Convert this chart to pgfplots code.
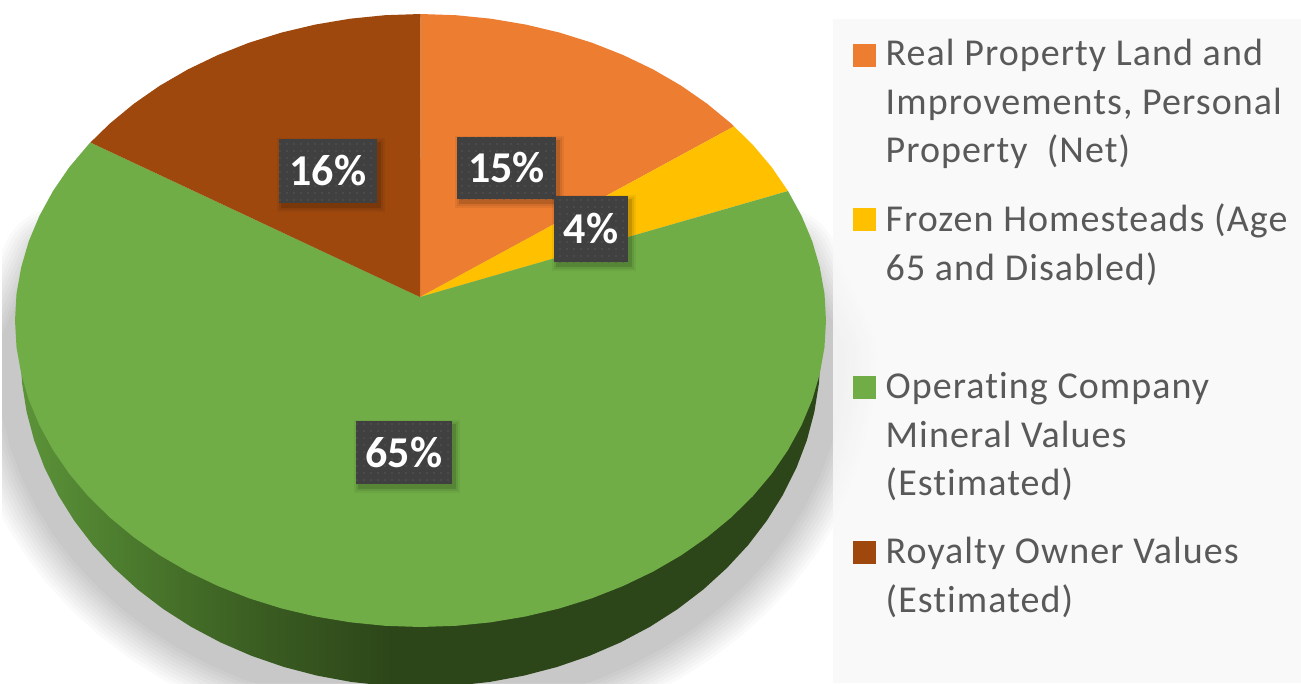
\documentclass[border=0pt]{standalone}
\usepackage{fontspec}
\setmainfont{Carlito}
\newfontfamily\legfont[LetterSpace=2.8,Ligatures=NoCommon]{Carlito}
\usepackage{pgfplots}
\usepackage{pgfplotstable}
\pgfplotsset{compat=1.18}
\usetikzlibrary{patterns.meta}
\definecolor{corange}{HTML}{ED7D31}
\definecolor{cyellow}{HTML}{FFC000}
\definecolor{cgreen}{HTML}{70AD47}
\definecolor{cbrown}{HTML}{9E480E}
\definecolor{ctext}{HTML}{595959}
\definecolor{cbox}{HTML}{404040}
\definecolor{cdot}{HTML}{555555}
\definecolor{gA}{HTML}{5C9339}
\definecolor{gB}{HTML}{4B7A2D}
\definecolor{gC}{HTML}{3B5E22}
\definecolor{gD}{HTML}{2C4519}
\pgfdeclarehorizontalshading{sidegreen}{100bp}{color(0bp)=(gA); color(25bp)=(gA); color(32bp)=(gB); color(39.5bp)=(gC); color(48.5bp)=(gD); color(100bp)=(gD)}
\pgfplotstableread{
x y
820.5 354
819 383
814.4 411.8
806.9 440.2
796.4 467.9
783 494.7
766.9 520.5
748.2 545
726.9 568
703.3 589.5
677.6 609.1
649.9 626.8
620.5 642.4
589.5 655.8
557.3 666.9
524 675.6
489.9 681.9
455.4 685.7
420.5 687
385.6 685.7
351.1 681.9
317 675.6
283.7 666.9
251.5 655.8
220.5 642.4
191.1 626.8
163.4 609.1
137.7 589.5
114.1 568
92.8 545
74.1 520.5
58 494.7
44.6 467.9
34.1 440.2
26.6 411.8
22 383
20.5 354
}\sidetable
\pgfplotstableread{
x y
820.5 354
819 383
814.4 411.8
806.9 440.2
796.4 467.9
783 494.7
766.9 520.5
748.2 545
726.9 568
703.3 589.5
677.6 609.1
649.9 626.8
620.5 642.4
589.5 655.8
557.3 666.9
524 675.6
489.9 681.9
455.4 685.7
420.5 687
385.6 685.7
351.1 681.9
317 675.6
283.7 666.9
251.5 655.8
220.5 642.4
191.1 626.8
163.4 609.1
137.7 589.5
114.1 568
92.8 545
74.1 520.5
58 494.7
44.6 467.9
34.1 440.2
26.6 411.8
22 383
20.5 354
60 268
780 268
}\shadowtable
\newcommand{\lab}[5]{%
  \node[fill=black,opacity=.05,minimum width=#3pt+10pt,minimum height=#4pt+10pt,inner sep=0] at (axis cs:#1+3,#2+4) {};
  \node[fill=black,opacity=.07,minimum width=#3pt+6pt,minimum height=#4pt+6pt,inner sep=0] at (axis cs:#1+3,#2+4) {};
  \node[fill=black,opacity=.12,minimum width=#3pt+2pt,minimum height=#4pt+2pt,inner sep=0] at (axis cs:#1+3,#2+4) {};
  \node[fill=cbox,minimum width=#3pt,minimum height=#4pt,inner sep=0] at (axis cs:#1,#2) {};
  \node[pattern={Dots[distance=7pt,radius=.9pt]},pattern color=cdot,minimum width=#3pt,minimum height=#4pt,inner sep=0] at (axis cs:#1,#2) {};
  \node[text=white,inner sep=0] at (axis cs:#1,#2) {\fontsize{44}{44}\selectfont\bfseries #5};
}
\newcommand{\leg}[2]{\node[anchor=base west,inner sep=0,text=ctext] at (axis cs:885.5,#1) {\legfont\fontsize{38}{38}\selectfont #2};}
\begin{document}
\begin{tikzpicture}
\begin{axis}[
  width=1301pt,height=683pt,scale only axis,
  xmin=0,xmax=1301,ymin=0,ymax=683,y dir=reverse,
  hide axis,clip=true]
% page background
\addplot[draw=none,fill=white] coordinates {(0,0) (1301,0) (1301,683) (0,683)} -- cycle;
% soft shadow
\pgfplotsinvokeforeach{50,57,...,120}{
\addplot[draw=black,line width=#1pt,line join=round,opacity=.02] table[x=x,y=y] {\shadowtable} -- cycle;
}
% white strip at the left of the chart area
\addplot[draw=none,fill=white] coordinates {(0,0) (1.5,0) (1.5,683) (0,683)} -- cycle;
% legend panel
\addplot[draw=none,fill=black!2.5,opacity=.85] coordinates {(833,19) (1301,19) (1301,683) (833,683)} -- cycle;
% side of the pie
\addplot[draw=none,shade,shading=sidegreen] table[x=x,y=y] {\sidetable} -- cycle;
% orange 15%
\addplot[draw=none,fill=corange] coordinates {
(420,297) (420.5,14) (455.9,15.2) (490.9,18.7) (525.4,24.5) (559.2,32.5) (591.9,42.7)
(623.3,55.1) (653.1,69.4) (681.2,85.7) (707.2,103.8) (731.1,123.5) (734,126.4)} -- cycle;
% yellow 4%
\addplot[draw=none,fill=cyellow] coordinates {
(420,297) (734,126.4) (752.7,144.7) (771.7,167.2) (788,191)} -- cycle;
% green 65%
\addplot[draw=none,fill=cgreen] coordinates {
(420,297) (788,191) (801.5,215.7) (812.2,241.2) (819.8,267.3) (824.5,293.8) (826,320.5)
(824.5,347.2) (819.8,373.7) (812.2,399.8) (801.5,425.3) (788,450) (771.7,473.8) (752.7,496.3)
(731.1,517.5) (707.2,537.2) (681.2,555.3) (653.1,571.6) (623.3,585.9) (591.9,598.3) (559.2,608.5)
(525.4,616.5) (490.9,622.3) (455.9,625.8) (420.5,627) (385.1,625.8) (350.1,622.3) (315.6,616.5)
(281.8,608.5) (249.1,598.3) (217.7,585.9) (187.9,571.6) (159.8,555.3) (133.8,537.2) (109.9,517.5)
(88.3,496.3) (69.3,473.8) (53,450) (39.5,425.3) (28.8,399.8) (21.2,373.7) (16.5,347.2) (15,320.5)
(16.5,293.8) (21.2,267.3) (28.8,241.2) (39.5,215.7) (53,191) (69.3,167.2) (88.3,144.7) (90.4,142.5)} -- cycle;
% brown 16%
\addplot[draw=none,fill=cbrown] coordinates {
(420,297) (90.4,142.5) (109.9,123.5) (133.8,103.8) (159.8,85.7) (187.9,69.4) (217.7,55.1)
(249.1,42.7) (281.8,32.5) (315.6,24.5) (350.1,18.7) (385.1,15.2) (420.5,14)} -- cycle;
% legend keys
\addplot[only marks,mark=square*,mark size=11pt,mark options={draw=corange,line width=0pt,fill=corange}] coordinates {(864,55)};
\addplot[only marks,mark=square*,mark size=11pt,mark options={draw=cyellow,line width=0pt,fill=cyellow}] coordinates {(864,219)};
\addplot[only marks,mark=square*,mark size=11pt,mark options={draw=cgreen,line width=0pt,fill=cgreen}] coordinates {(864,387)};
\addplot[only marks,mark=square*,mark size=11pt,mark options={draw=cbrown,line width=0pt,fill=cbrown}] coordinates {(864,552)};
% data labels
\lab{506.5}{168}{99}{62}{15\%}{}
\lab{591}{229}{74}{66}{4\%}{}
\lab{328}{171}{98}{64}{16\%}{}
\lab{404}{452.5}{96}{63}{65\%}{}
% legend text
\leg{65.5}{Real Property Land and}
\leg{114}{Improvements, Personal}
\leg{162.5}{Property\ \ (Net)}
\leg{231}{Frozen Homesteads (Age}
\leg{280}{65 and Disabled)}
\leg{398}{Operating Company}
\leg{447}{Mineral Values}
\leg{495.5}{(Estimated)}
\leg{563.5}{Royalty Owner Values}
\leg{612}{(Estimated)}
\end{axis}
\end{tikzpicture}
\end{document}
